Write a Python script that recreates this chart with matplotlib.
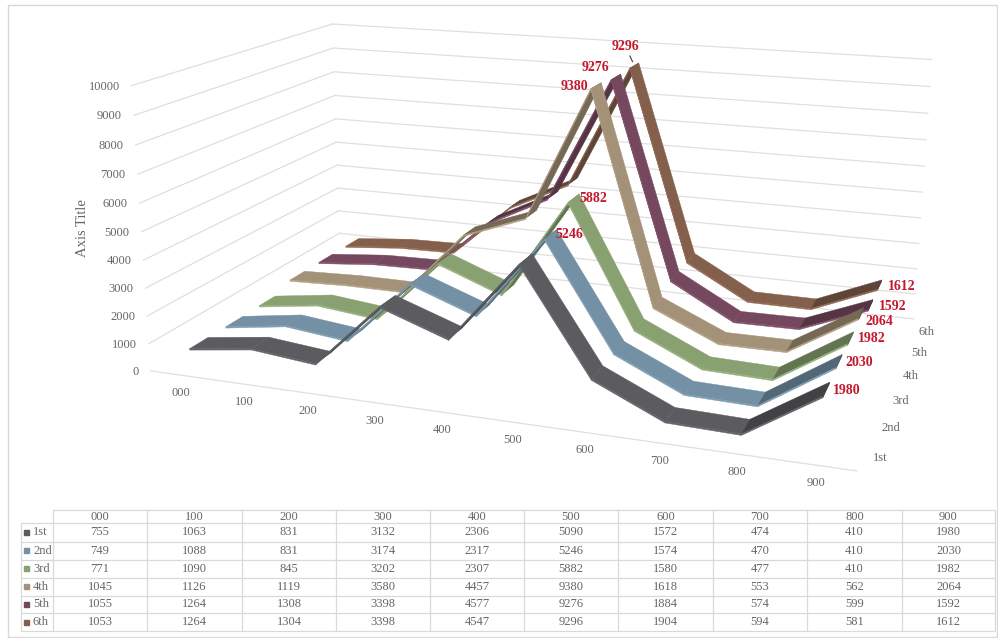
#3D line chart with data table (Excel style)

import numpy as np
import matplotlib
matplotlib.use('Agg')
import matplotlib.pyplot as plt
from matplotlib.colors import to_rgb
from mpl_toolkits.mplot3d import proj3d
from mpl_toolkits.mplot3d.art3d import Poly3DCollection

plt.rcParams['font.family'] = ['Liberation Serif', 'DejaVu Serif']

## Data
categories = ['000', '100', '200', '300', '400', '500', '600', '700', '800', '900']
series_names = ['1st', '2nd', '3rd', '4th', '5th', '6th']
v1st = [755, 1063, 831, 3132, 2306, 5090, 1572, 474, 410, 1980]
v2nd = [749, 1088, 831, 3174, 2317, 5246, 1574, 470, 410, 2030]
v3rd = [771, 1090, 845, 3202, 2307, 5882, 1580, 477, 410, 1982]
v4th = [1045, 1126, 1119, 3580, 4457, 9380, 1618, 553, 562, 2064]
v5th = [1055, 1264, 1308, 3398, 4577, 9276, 1884, 574, 599, 1592]
v6th = [1053, 1264, 1304, 3398, 4547, 9296, 1904, 594, 581, 1612]
values = [v1st, v2nd, v3rd, v4th, v5th, v6th]
zticks = list(range(0, 10001, 1000))

## Styles
colors = ['#5b5b60', '#7390a5', '#89a170', '#a39277', '#76485f', '#84604c']
gridc = '#dfdfdf'
textc = '#666666'
redc = '#c4182c'
# series index, category index, label offset in pixels
datalabels = [(0, 9, 20, -1), (1, 5, 19, 0), (1, 9, 20, -2), (2, 5, 20, 0), (2, 9, 21, -1),
              (3, 5, -22, -1), (3, 9, 18, -9), (4, 5, -21, 9), (4, 9, 22, -2),
              (5, 5, -9, 19), (5, 9, 22, -2)]
halfw = 0.25
thick = 50

W, H = 998, 638
fig = plt.figure(figsize=(W/100, H/100), dpi=100)

# camera fitted on the corners of the box in the picture
scale, cx, cy = 4430.76, 551.84, 210.94
side = scale*0.185
left = cx - scale*0.095
bottom = cy + scale*0.095
ax = fig.add_axes([left/W, (H-bottom)/H, side/W, side/H], projection='3d')
ax.set_xlim(0, 10, view_margin=0)
ax.set_ylim(0, 6, view_margin=0)
ax.set_zlim(0, 10000, view_margin=0)
ax.view_init(15.2907, -71.0602, -0.3091)
ax.set_proj_type('persp', focal_length=0.3542)
ax.set_box_aspect((2.4238, 1.4543, 1))
ax.set_axis_off()
ax.computed_zorder = False
M = ax.get_proj()

# walls
for z in zticks:
    if z > 0:
        ax.plot([0, 0], [0, 6], [z, z], color=gridc, lw=0.9, zorder=1)
    ax.plot([0, 10], [6, 6], [z, z], color=gridc, lw=0.9, zorder=1)
ax.plot([0, 10], [0, 0], [0, 0], color=gridc, lw=0.9, zorder=1)

# ribbons, back to front
x = np.arange(10) + 0.5
for i in range(5, -1, -1):
    val = values[i]
    yc = i + 0.5
    base = np.array(to_rgb(colors[i]))
    polys, faces = [], []
    for j in range(9):
        x0, x1, z0, z1 = x[j], x[j+1], val[j], val[j+1]
        top = [(x0, yc-halfw, z0), (x1, yc-halfw, z1), (x1, yc+halfw, z1), (x0, yc+halfw, z0)]
        side_f = [(x0, yc-halfw, z0), (x1, yc-halfw, z1), (x1, yc-halfw, z1-thick), (x0, yc-halfw, z0-thick)]
        polys.append(side_f)
        faces.append(np.clip(base*1.08, 0, 1))
        polys.append(top)
        faces.append(base*0.72 if z1 - z0 > 800 else base)
    # end cap
    polys.append([(x[9], yc-halfw, val[9]), (x[9], yc+halfw, val[9]),
                  (x[9], yc+halfw, val[9]-thick), (x[9], yc-halfw, val[9]-thick)])
    faces.append(base*0.6)
    coll = Poly3DCollection(polys, facecolors=faces, edgecolors=faces, linewidths=0.3, zorder=10+(5-i))
    ax.add_collection3d(coll)


def label(xx, yy, zz, s, dx, dy, **kw):
    X, Y, _ = proj3d.proj_transform(xx, yy, zz, M)
    return ax.annotate(s, xy=(X, Y), xytext=(dx, dy), textcoords='offset pixels', annotation_clip=False, **kw)


# tick labels
for z in zticks:
    label(0, 0, z, str(z), -12, -1, ha='right', va='center', fontsize=9, color=textc)
for j, c in enumerate(categories):
    label(x[j], 0, 0, c, 0, -18, ha='center', va='center', fontsize=9, color=textc)
for i, s in enumerate(series_names):
    label(10, i+0.5, 0, s, 17, -3, ha='center', va='center', fontsize=9, color=textc)

# data labels
for i, j, dx, dy in datalabels:
    kw = {}
    if (i, j) == (5, 5):
        kw['arrowprops'] = dict(arrowstyle='-', color='#404040', lw=0.8, shrinkA=0, shrinkB=3)
    label(x[j], i+0.5, values[i][j], str(values[i][j]), dx, dy, ha='center', va='center',
          fontsize=10, fontweight='bold', color=redc, zorder=30, **kw)

# overlay in pixel coordinates: frame, axis title, table
tax = fig.add_axes([0, 0, 1, 1], zorder=5)
tax.set_xlim(0, W)
tax.set_ylim(H, 0)
tax.axis('off')
tax.add_patch(plt.Rectangle((8, 5), 989, 632, fill=False, ec='#d9d9d9', lw=1))
tax.text(83, 228, 'Axis Title', rotation=90, ha='center', va='center', fontsize=10.5, color=textc)

col_edges = [53, 147, 242, 336, 430, 524, 618, 713, 807, 902, 995]
row_edges = [510, 523, 541.5, 559.5, 577.5, 595.5, 613, 631]
tcol = '#d9d9d9'
tax.hlines(row_edges[0], col_edges[0], col_edges[-1], color=tcol, lw=0.9)
tax.hlines(row_edges[1:], 21, col_edges[-1], color=tcol, lw=0.9)
tax.vlines(col_edges, row_edges[0], row_edges[-1], color=tcol, lw=0.9)
tax.vlines(21, row_edges[1], row_edges[-1], color=tcol, lw=0.9)
for j, c in enumerate(categories):
    tax.text((col_edges[j]+col_edges[j+1])/2, (row_edges[0]+row_edges[1])/2, c,
             ha='center', va='center', fontsize=9, color=textc)
for i, s in enumerate(series_names):
    ymid = (row_edges[i+1]+row_edges[i+2])/2
    tax.add_patch(plt.Rectangle((24.5, ymid-2.5), 5, 5, color=colors[i]))
    tax.text(33, ymid, s, ha='left', va='center', fontsize=9, color=textc)
    for j in range(10):
        tax.text((col_edges[j]+col_edges[j+1])/2, ymid, str(values[i][j]),
                 ha='center', va='center', fontsize=9, color=textc)

fig.savefig('out.png', dpi=100)
